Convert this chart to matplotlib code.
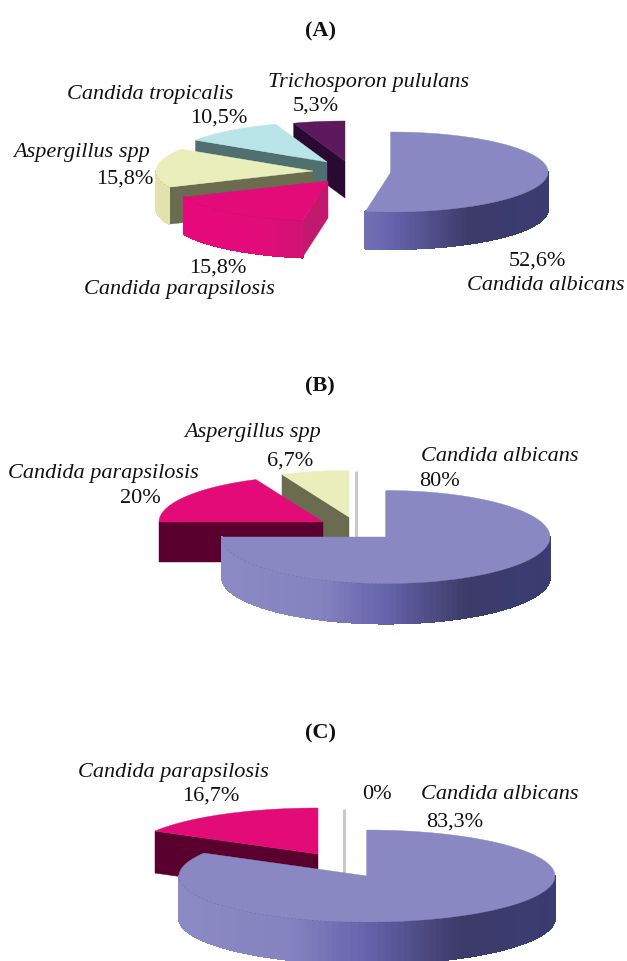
import numpy as np
import matplotlib
matplotlib.use('Agg')
import matplotlib.pyplot as plt
from matplotlib.collections import PolyCollection
from matplotlib.colors import LinearSegmentedColormap
from matplotlib.patches import Polygon

plt.rcParams['font.family'] = ['Liberation Serif', 'DejaVu Serif']

# slice sizes, clockwise from 12 o'clock, as drawn in the picture
species_a = ['Candida albicans', 'Candida parapsilosis', 'Aspergillus spp',
             'Candida tropicalis', 'Trichosporon pululans']
shares_a = [52.6, 15.8, 15.8, 10.5, 5.3]
species_b = ['Candida albicans', 'Candida parapsilosis', 'Aspergillus spp', 'other']
shares_b = [75.0, 18.3, 6.7, 0.0]
species_c = ['Candida albicans', 'Candida parapsilosis', 'other']
shares_c = [83.3, 16.7, 0.0]

# how far each slice is pulled out of the pie, pixels
explode_a = [(51, -2), (-12, 7), (-27, -3), (-13, -12), (5, -13)]
explode_b = [(36, 8), (-27, -7), (-1, -12), (6, -12)]
explode_c = [(37, 7), (-12, -15), (14, -14)]

# slice colours: top, cut face, and the outer wall gradient
LILAC = LinearSegmentedColormap.from_list('lilac', [(0, '#8c8ac4'), (0.3, '#8583bf'), (0.5, '#6664ad'),
                                                    (0.75, '#3d3b69'), (1, '#3a3c72')])
PINK = LinearSegmentedColormap.from_list('pink', [(0, '#e8087c'), (0.3, '#e00c78'), (0.6, '#b81e6a'), (1, '#b81e6a')])
PALE = LinearSegmentedColormap.from_list('pale', ['#e2e2ae', '#e2e2ae'])
CYAN = LinearSegmentedColormap.from_list('cyan', ['#8fb8ba', '#8fb8ba'])
PLUM = LinearSegmentedColormap.from_list('plum', ['#3a1040', '#3a1040'])

styles = {
    'Candida albicans': ('#8a88c2', '#6664ad', LILAC),
    'Candida parapsilosis': ('#e30b78', '#5a002e', PINK),
    'Aspergillus spp': ('#eaeebb', '#6b6b50', PALE),
    'Candida tropicalis': ('#b9e5e8', '#4f6f70', CYAN),
    'Trichosporon pululans': ('#5c1a5c', '#2a0a33', PLUM),
}


def ell(c, rx, ry, th):
    return c[0] + rx * np.sin(th), c[1] - ry * np.cos(th)


def draw_pie(ax, species, shares, explode, center, rx, ry, depth, order, cut_over=None):
    cut_over = cut_over or {}
    edges = np.radians(np.concatenate([[0], np.cumsum(shares)]) / np.sum(shares) * 360)
    for i in order:
        c = (center[0] + explode[i][0], center[1] + explode[i][1])
        t0, t1 = edges[i], edges[i + 1]

        # no slice at all, only a grey sliver is left
        if shares[i] == 0:
            x, y = ell(c, rx, ry, t0)
            ax.plot([x, x], [y, c[1] + depth], color='#c8c8c8', lw=2.2, solid_capstyle='butt', zorder=2)
            continue

        top_col, cut_col, wall = styles[species[i]]
        cut_col = cut_over.get(species[i], cut_col)
        th = np.linspace(t0, t1, 120)
        xs, ys = ell(c, rx, ry, th)

        # cut face at the start of the slice
        x0, y0 = ell(c, rx, ry, t0)
        ax.add_patch(Polygon([c, (x0, y0), (x0, y0 + depth), (c[0], c[1] + depth)],
                             fc=cut_col, ec=cut_col, lw=0.3, zorder=2))

        # outer wall, only the front half shows
        front = np.linspace(max(t0, np.pi / 2), min(t1, 3 * np.pi / 2), 90)
        if front[-1] > front[0]:
            fx, fy = ell(c, rx, ry, front)
            quads = [[(fx[k], fy[k]), (fx[k + 1], fy[k + 1]), (fx[k + 1], fy[k + 1] + depth), (fx[k], fy[k] + depth)]
                     for k in range(len(front) - 1)]
            cols = [wall((np.sin(a) + 1) / 2) for a in front[:-1]]
            ax.add_collection(PolyCollection(quads, facecolors=cols, edgecolors=cols, linewidths=0.8,
                                             antialiaseds=False, zorder=2))
            ax.plot(fx, fy, color='#2c2c40', lw=0.5, ls=(0, (3, 3)), alpha=0.55, zorder=2)

        ax.add_patch(Polygon(np.vstack([[c], np.column_stack([xs, ys])]), fc=top_col, ec=top_col, lw=0.3, zorder=2))


fig = plt.figure(figsize=(6.27, 9.62), dpi=100)
ax = fig.add_axes([0, 0, 1, 1])
ax.set_xlim(0, 627)
ax.set_ylim(962, 0)
ax.axis('off')

draw_pie(ax, species_a, shares_a, explode_a, (340, 175), 157, 40, 37, [4, 3, 2, 1, 0],
         {'Candida parapsilosis': '#c2186e'})
draw_pie(ax, species_b, shares_b, explode_b, (350, 530), 164, 46.5, 40, [3, 2, 1, 0])
draw_pie(ax, species_c, shares_c, explode_c, (330, 870), 188, 46, 42, [2, 1, 0])

titles = [('(A)', 320, 31), ('(B)', 320, 386), ('(C)', 320, 733)]
for t, x, y in titles:
    ax.text(x, y, t, fontsize=16, fontweight='bold', ha='center', va='center', color='#111111')

names = [('Trichosporon pululans', 369, 82), ('Candida tropicalis', 150, 95), ('Aspergillus spp', 82, 152),
         ('Candida parapsilosis', 179, 290), ('Candida albicans', 546, 286),
         ('Aspergillus spp', 253, 433), ('Candida albicans', 500, 457), ('Candida parapsilosis', 103, 474),
         ('Candida parapsilosis', 173, 773), ('Candida albicans', 500, 795)]
for t, x, y in names:
    ax.text(x, y, t, fontsize=16, style='italic', ha='center', va='center', color='#111111')

percents = [('5,3%', 316, 106), ('10,5%', 219, 118), ('15,8%', 125, 179), ('15,8%', 218, 268), ('52,6%', 537, 261),
            ('6,7%', 290, 461), ('80%', 439, 482), ('20%', 140, 499),
            ('16,7%', 211, 796), ('0%', 377, 795), ('83,3%', 455, 822)]
for t, x, y in percents:
    ax.text(x, y, t, fontsize=16, ha='center', va='center', color='#111111')

fig.savefig('out.png', dpi=100)
